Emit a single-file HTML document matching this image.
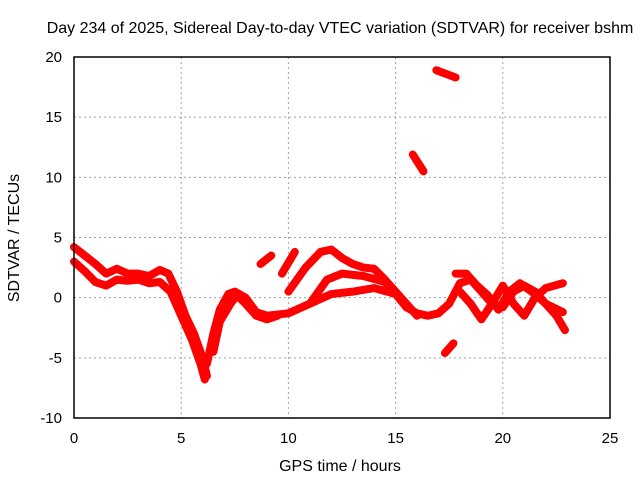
<!DOCTYPE html>
<html><head><meta charset="utf-8"><style>
body{margin:0;background:#fff}
svg{display:block;font-family:"Liberation Sans",sans-serif}
</style></head><body>
<svg id="chart" width="640" height="480">
<text x="340" y="33" font-size="16" text-anchor="middle">Day 234 of 2025, Sidereal Day-to-day VTEC variation (SDTVAR) for receiver bshm</text>
<text x="340" y="471" font-size="16" text-anchor="middle">GPS time / hours</text>
<text transform="translate(19,238) rotate(-90)" font-size="16" text-anchor="middle">SDTVAR / TECUs</text>
<g id="grid"></g><g id="series"></g>
<rect x="74" y="57" width="536" height="361" fill="none" stroke="#000" stroke-width="1.5"/>
</svg>
<script>
const xTicks=[0,5,10,15,20,25];
const yTicks=[-10,-5,0,5,10,15,20];
const track1=[[0,4.2],[0.5,3.5],[1,2.8],[1.5,2.0],[2,2.4],[2.5,2.0],[3,2.0],[3.5,1.8],[4,2.3],[4.4,2.0],[4.8,0.5],[5.2,-1.5],[5.6,-3],[6,-5],[6.2,-6.5]];
const track2=[[0,3],[0.5,2.2],[1,1.3],[1.5,1],[2,1.5],[2.5,1.4],[3,1.5],[3.5,1.2],[4,1.3],[4.5,0.5],[5,-1.5],[5.5,-3.5],[5.9,-5.5],[6.1,-6.8]];
const track3=[[6.2,-5.5],[6.5,-3],[6.8,-1],[7.2,0.3],[7.5,0.5],[8,0],[8.5,-1.2],[9,-1.5],[10,-1.3],[11,-0.5],[12,0.3],[13,0.5],[14,0.8],[15,0.3],[15.5,-0.8],[16,-1.3],[16.5,-1.5],[17,-1.3],[17.5,-0.5],[18,1.2],[18.5,1.5],[19,0.5],[19.5,-0.5],[20,-0.8],[20.5,0.5],[21,1],[21.5,0.5],[22,-0.5],[22.8,-1.2]];
const track4=[[6.5,-4.5],[6.8,-2],[7.3,-0.5],[7.6,0.2],[8,-0.5],[8.5,-1.5],[9,-1.8],[9.5,-1.5]];
const track5=[[8.7,2.8],[9.2,3.5]];
const track6=[[9.7,2.0],[10.3,3.8]];
const track7=[[10,0.5],[10.8,2.5],[11.5,3.8],[12,4.0],[12.5,3.3],[13,2.8],[13.5,2.5],[14,2.4],[14.5,1.5],[15,0.5],[15.5,-0.5],[16,-1.5]];
const track8=[[11,-0.5],[11.8,1.5],[12.5,2],[13.5,1.8],[14.5,1.3],[15,0.3]];
const track9=[[15.8,11.9],[16.3,10.5]];
const track10=[[16.9,18.9],[17.8,18.3]];
const track11=[[17.3,-4.6],[17.7,-3.8]];
const track12=[[17.8,2],[18.3,2],[18.8,1],[19.3,0.2],[19.8,-1],[20.3,0.5],[20.8,1.2],[21.5,0.3],[22,-0.5],[22.5,-1.5],[22.9,-2.7]];
const track13=[[18,0.5],[18.5,-0.5],[19,-1.8],[19.5,-0.5],[20,1],[20.5,-0.5],[21,-1.5],[21.5,0],[22,0.8],[22.8,1.2]];
const tracks=[track1,track2,track3,track4,track5,track6,track7,track8,track9,track10,track11,track12,track13];
const NS="http://www.w3.org/2000/svg";
const X=h=>74+h*536/25, Y=v=>418-(v+10)*361/30;
const grid=document.getElementById('grid'), ser=document.getElementById('series');
function mk(t,a,p){const e=document.createElementNS(NS,t);for(const k in a)e.setAttribute(k,a[k]);p.appendChild(e);return e;}
xTicks.forEach(t=>{
 const gl=mk('line',{x1:X(t),x2:X(t),y1:57,y2:418,stroke:'#a0a0a0','stroke-dasharray':'2,3'},grid);
 
 
 const tl=mk('text',{x:X(t),y:443,'font-size':15,'text-anchor':'middle'},grid);tl.textContent=t;
 
 
});
yTicks.forEach(t=>{
 const gl=mk('line',{x1:74,x2:610,y1:Y(t),y2:Y(t),stroke:'#a0a0a0','stroke-dasharray':'2,3'},grid);
 
 
 const tl=mk('text',{x:62,y:Y(t)+5,'font-size':15,'text-anchor':'end'},grid);tl.textContent=t;
 
 
});
tracks.forEach(tr=>{
 const pl=mk('polyline',{points:tr.map(p=>X(p[0])+','+Y(p[1])).join(' '),fill:'none',stroke:'#ff0000','stroke-width':8,'stroke-linejoin':'round','stroke-linecap':'round'},ser);
 
 
});
</script>
</body></html>
